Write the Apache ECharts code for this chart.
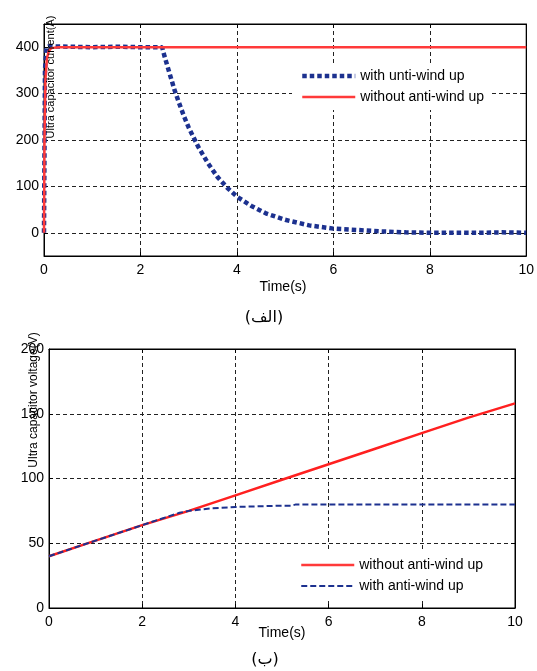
<!DOCTYPE html>
<html>
<head>
<meta charset="utf-8">
<script src="https://cdn.jsdelivr.net/npm/echarts@6/dist/echarts.min.js"></script>
<style>
html,body{margin:0;padding:0;background:#fff;}
#main{width:537px;height:671px;}
</style>
</head>
<body>
<div id="main"></div>
<script>
// ---------- DATA ----------
// Top chart: Ultra capacitor current (A)
var topBlueT = [0, 0.02, 0.05, 0.1, 0.5, 1.0, 1.5, 2.0, 2.45, 2.5, 2.6, 2.7, 2.8, 2.9, 3.0, 3.2, 3.4, 3.6, 3.8, 4.0, 4.3, 4.6, 5.0, 5.5, 6.0, 6.5, 7.0, 7.5, 8.0, 9.0, 9.5, 10];
var topBlueV = [0, 350, 400, 402, 401, 400, 401, 400, 400, 380, 345, 310, 280, 252, 227, 185, 150, 120, 97, 78, 58, 42, 28, 16, 9, 6, 3, 1, 0, 0, 1, 0];
var topRedT = [0, 0.01, 0.03, 0.06, 0.1, 0.15, 0.3, 1, 2, 3, 4, 5, 6, 7, 8, 9, 10];
var topRedV = [0, 200, 330, 375, 392, 398, 400, 400, 400, 400, 400, 400, 400, 400, 400, 400, 400];
// Bottom chart: Ultra capacitor voltage (V)
var botRedT = [0, 1, 2, 3, 4, 5, 6, 7, 8, 9, 10];
var botRedV = [40, 52, 64, 75, 87, 99, 111, 123, 135, 147, 158];
var botBlueT = [0, 1, 2, 2.5, 2.8, 3, 3.5, 4, 4.5, 5, 5.2, 5.3, 6, 7, 8, 9, 10];
var botBlueV = [40, 52, 64, 70, 73.5, 75, 77, 78, 78.5, 79, 79, 80, 80, 80, 80, 80, 80];
var xTicks = [0, 2, 4, 6, 8, 10];
var topYTicks = [0, 100, 200, 300, 400];
var botYTicks = [0, 50, 100, 150, 200];
var nameTopBlue = 'with unti-wind up';
var nameRed = 'without anti-wind up';
var nameBotBlue = 'with anti-wind up';

function pairs(t, v) { return t.map(function (x, i) { return [x, v[i]]; }); }

var FONT = 'Liberation Sans, Arial, sans-serif';
var gridLine = { show: true, lineStyle: { color: '#222', width: 1, type: [4, 3] } };
var axLine = { show: true, onZero: false, lineStyle: { color: '#000', width: 1 } };
var lbl = { color: '#000', fontSize: 14, fontFamily: FONT };

function xAx(gi, pos, show) {
  return {
    type: 'value', gridIndex: gi, position: pos, min: 0, max: 10, interval: 2,
    axisLine: axLine,
    axisTick: { show: true, inside: true, length: 4, lineStyle: { color: '#000' } },
    axisLabel: show ? Object.assign({ margin: 7 }, lbl) : { show: false },
    splitLine: show ? gridLine : { show: false }
  };
}

var legendCommon = {
  orient: 'vertical', left: 292, padding: [6, 8, 6, 8], itemGap: 7,
  itemWidth: 53, itemHeight: 14, backgroundColor: '#fff', borderWidth: 0,
  itemStyle: { opacity: 0 },
  lineStyle: { width: 'inherit', type: 'inherit' },
  textStyle: { color: '#000', fontSize: 14, fontFamily: FONT },
  selectedMode: false
};

var chart = echarts.init(document.getElementById('main'), null, { renderer: 'canvas' });
chart.setOption({
  animation: false,
  backgroundColor: '#fff',
  grid: [
    { left: 44, top: 24, width: 483, height: 232, show: true, borderColor: '#000', borderWidth: 1 },
    { left: 49, top: 349, width: 466, height: 259, show: true, borderColor: '#000', borderWidth: 1 }
  ],
  xAxis: [xAx(0, 'bottom', true), xAx(0, 'top', false), xAx(1, 'bottom', true), xAx(1, 'top', false)],
  yAxis: [
    {
      type: 'value', gridIndex: 0, position: 'left', min: -50, max: 450,
      axisLine: axLine,
      axisTick: { show: true, inside: true, length: 4, customValues: topYTicks, lineStyle: { color: '#000' } },
      axisLabel: Object.assign({ margin: 5, customValues: topYTicks }, lbl),
      splitLine: gridLine
    },
    {
      type: 'value', gridIndex: 0, position: 'right', min: -50, max: 450,
      axisLine: axLine,
      axisTick: { show: true, inside: true, length: 4, customValues: topYTicks, lineStyle: { color: '#000' } },
      axisLabel: { show: false }, splitLine: { show: false }
    },
    {
      type: 'value', gridIndex: 1, position: 'left', min: 0, max: 200, interval: 50,
      axisLine: axLine,
      axisTick: { show: true, inside: true, length: 4, lineStyle: { color: '#000' } },
      axisLabel: Object.assign({ margin: 5 }, lbl),
      splitLine: gridLine
    },
    {
      type: 'value', gridIndex: 1, position: 'right', min: 0, max: 200, interval: 50,
      axisLine: axLine,
      axisTick: { show: true, inside: true, length: 4, lineStyle: { color: '#000' } },
      axisLabel: { show: false }, splitLine: { show: false }
    }
  ],
  legend: [
    Object.assign({}, legendCommon, { top: 63, data: [nameTopBlue, nameRed] }),
    Object.assign({}, legendCommon, { top: 552, data: [nameRed, nameBotBlue] })
  ],
  series: [
    {
      name: nameRed, type: 'line', xAxisIndex: 0, yAxisIndex: 0, data: pairs(topRedT, topRedV),
      symbol: 'none', z: 3, lineStyle: { color: '#ff3a3a', width: 2.5 }, itemStyle: { color: '#ff3a3a' }
    },
    {
      name: nameTopBlue, type: 'line', xAxisIndex: 0, yAxisIndex: 0, data: pairs(topBlueT, topBlueV),
      symbol: 'none', z: 2, lineStyle: { color: '#1c318f', width: 4.5, type: [4.5, 3] }, itemStyle: { color: '#1c318f' }
    },
    {
      name: nameBotBlue, type: 'line', xAxisIndex: 2, yAxisIndex: 2, data: pairs(botBlueT, botBlueV),
      symbol: 'none', z: 3, lineStyle: { color: '#1c318f', width: 2, type: [6, 3] }, itemStyle: { color: '#1c318f' }
    },
    {
      name: nameRed, type: 'line', xAxisIndex: 2, yAxisIndex: 2, data: pairs(botRedT, botRedV),
      symbol: 'none', z: 2, lineStyle: { color: '#ff2020', width: 2.5 }, itemStyle: { color: '#ff2020' }
    }
  ],
  graphic: [
    { type: 'text', x: 51, y: 77, rotation: Math.PI / 2, z: 10,
      style: { text: 'Ultra capacitor current(A)', fill: '#000', fontSize: 11, fontFamily: FONT, align: 'center', verticalAlign: 'middle' } },
    { type: 'text', x: 34, y: 400, rotation: Math.PI / 2, z: 10,
      style: { text: 'Ultra capacitor voltage(V)', fill: '#000', fontSize: 12, fontFamily: FONT, align: 'center', verticalAlign: 'middle' } },
    { type: 'text', x: 283, y: 287, z: 10,
      style: { text: 'Time(s)', fill: '#000', fontSize: 14, fontFamily: FONT, align: 'center', verticalAlign: 'middle' } },
    { type: 'text', x: 282, y: 633, z: 10,
      style: { text: 'Time(s)', fill: '#000', fontSize: 14, fontFamily: FONT, align: 'center', verticalAlign: 'middle' } },
    { type: 'text', x: 264, y: 318, z: 10,
      style: { text: '(الف)', fill: '#000', fontSize: 16, fontFamily: 'DejaVu Sans, Noto Sans, sans-serif', align: 'center', verticalAlign: 'middle' } },
    { type: 'text', x: 265, y: 660, z: 10,
      style: { text: '(ب)', fill: '#000', fontSize: 16, fontFamily: 'DejaVu Sans, Noto Sans, sans-serif', align: 'center', verticalAlign: 'middle' } }
  ]
});
</script>
</body>
</html>
